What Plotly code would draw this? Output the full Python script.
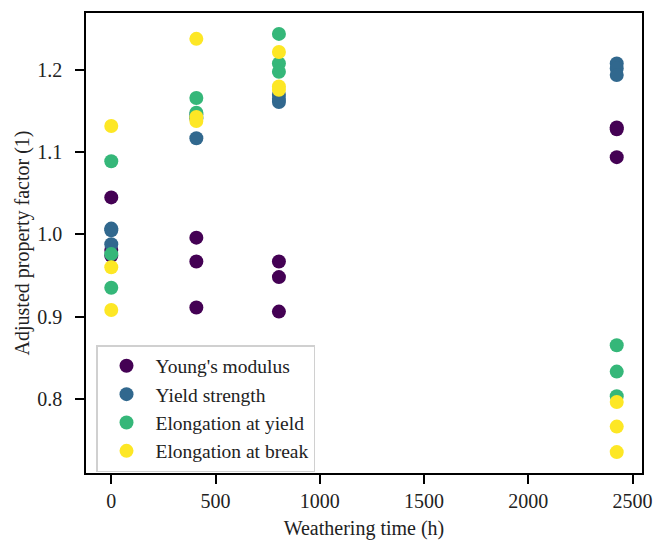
import plotly.graph_objects as go

time_h = [0, 0, 0, 408, 408, 408, 804, 804, 804, 2424, 2424, 2424]
youngs_modulus = [1.045, 0.981, 0.974, 0.996, 0.967, 0.911, 0.967, 0.948, 0.906, 1.130, 1.094, 1.128]
yield_strength = [1.007, 1.005, 0.988, 1.117, 1.141, 1.146, 1.170, 1.165, 1.161, 1.208, 1.202, 1.194]
elong_yield = [1.089, 0.976, 0.935, 1.166, 1.148, 1.143, 1.244, 1.208, 1.198, 0.865, 0.833, 0.803]
elong_break = [1.132, 0.960, 0.908, 1.238, 1.143, 1.138, 1.222, 1.180, 1.176, 0.796, 0.766, 0.735]

series_names = ["Young's modulus", "Yield strength", "Elongation at yield", "Elongation at break"]
series_values = [youngs_modulus, yield_strength, elong_yield, elong_break]
colors = ["#440154", "#31688e", "#35b779", "#fde725"]

x_ticks = [0, 500, 1000, 1500, 2000, 2500]
y_ticks = [0.8, 0.9, 1.0, 1.1, 1.2]

FONT = "Liberation Serif"
FS = 20
TXT = "#222222"

fig = go.Figure()
for i, (name, vals, col) in enumerate(zip(series_names, series_values, colors)):
    fig.add_trace(go.Scatter(
        x=time_h, y=vals, mode="markers", name=name, legendgroup=f"g{i}",
        marker=dict(size=14, color=col, line=dict(width=0)),
    ))

axis_common = dict(
    showline=True, linecolor="black", linewidth=1.6, mirror=True,
    ticks="outside", ticklen=9, tickwidth=1.6, tickcolor="black",
    showgrid=False, zeroline=False, automargin=False,
    tickfont=dict(family=FONT, size=FS, color=TXT),
)

allx = time_h
ally = [v for s in series_values for v in s]
xr = max(allx) - min(allx)
yr = max(ally) - min(ally)

fig.update_layout(
    width=654, height=540,
    margin=dict(l=86, r=12, t=13, b=67),
    paper_bgcolor="white", plot_bgcolor="white",
    font=dict(family=FONT, size=FS, color=TXT),
    xaxis=dict(
        **axis_common,
        range=[min(allx) - 0.05 * xr, max(allx) + 0.05 * xr],
        tickvals=x_ticks, ticktext=[str(t) for t in x_ticks],
        title=dict(text="Weathering time (h)", font=dict(family=FONT, size=FS, color=TXT), standoff=10),
    ),
    yaxis=dict(
        **axis_common,
        range=[min(ally) - 0.05 * yr, max(ally) + 0.05 * yr],
        tickvals=y_ticks, ticktext=[f"{t:.1f}" for t in y_ticks],
        ticklabelstandoff=9,
        title=dict(text="Adjusted property factor (1)", font=dict(family=FONT, size=FS, color=TXT), standoff=2),
    ),
    legend=dict(
        x=0.018, y=0.278, xanchor="left", yanchor="top",
        bgcolor="white", bordercolor="#d0d0d0", borderwidth=1.5,
        font=dict(family=FONT, size=19.5, color=TXT),
        itemwidth=48, tracegroupgap=0,
    ),
    showlegend=True,
)

fig.write_html("out.html")
